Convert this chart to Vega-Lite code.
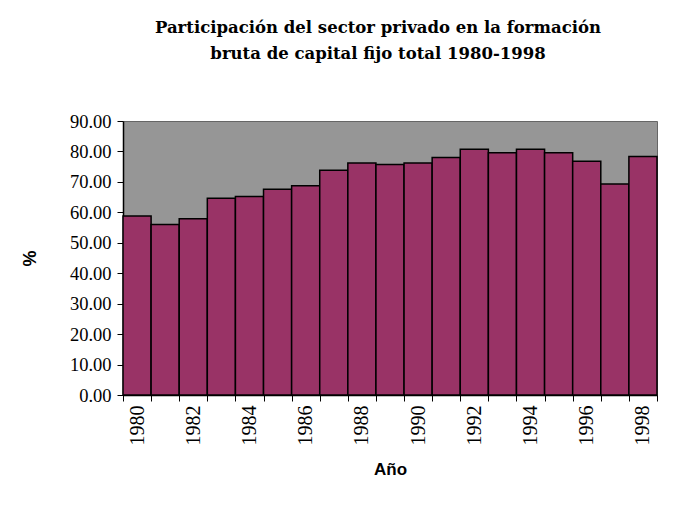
{
  "$schema": "https://vega.github.io/schema/vega-lite/v6.json",
  "width": 534,
  "height": 274,
  "autosize": "none",
  "padding": {"left": 123, "top": 121, "right": 42, "bottom": 118},
  "background": "white",
  "title": {
    "text": ["Participación del sector privado en la formación", "bruta de capital fijo total 1980-1998"],
    "font": "DejaVu Serif",
    "fontSize": 16.5,
    "fontWeight": "bold",
    "color": "black",
    "anchor": "middle",
    "dx": -12,
    "lineHeight": 26,
    "offset": 50
  },
  "data": {
    "values": [
      {"anio": 1980, "pct": 58.8},
      {"anio": 1981, "pct": 56.0},
      {"anio": 1982, "pct": 57.9},
      {"anio": 1983, "pct": 64.6},
      {"anio": 1984, "pct": 65.2},
      {"anio": 1985, "pct": 67.6},
      {"anio": 1986, "pct": 68.7},
      {"anio": 1987, "pct": 73.8},
      {"anio": 1988, "pct": 76.2},
      {"anio": 1989, "pct": 75.7},
      {"anio": 1990, "pct": 76.2},
      {"anio": 1991, "pct": 78.0},
      {"anio": 1992, "pct": 80.7},
      {"anio": 1993, "pct": 79.6},
      {"anio": 1994, "pct": 80.7},
      {"anio": 1995, "pct": 79.6},
      {"anio": 1996, "pct": 76.8},
      {"anio": 1997, "pct": 69.3},
      {"anio": 1998, "pct": 78.3}
    ]
  },
  "mark": {"type": "bar", "color": "#993366", "stroke": "black", "strokeWidth": 1.5},
  "encoding": {
    "x": {
      "field": "anio",
      "type": "ordinal",
      "scale": {"paddingInner": 0, "paddingOuter": 0},
      "axis": {
        "title": "Año",
        "titleFont": "Liberation Sans",
        "titleFontSize": 17,
        "titleFontWeight": "bold",
        "titleColor": "black",
        "titlePadding": 16,
        "labelFont": "Liberation Serif",
        "labelFontSize": 20,
        "labelColor": "black",
        "labelAngle": -90,
        "labelPadding": 4,
        "labelExpr": "datum.value % 2 === 0 ? datum.label : ''",
        "tickBand": "extent",
        "tickColor": "black",
        "tickSize": 6,
        "domainColor": "black",
        "domainWidth": 1.5
      }
    },
    "y": {
      "field": "pct",
      "type": "quantitative",
      "scale": {"domain": [0, 90]},
      "axis": {
        "title": "%",
        "titleFont": "Liberation Sans",
        "titleFontSize": 18,
        "titleFontWeight": "bold",
        "titleColor": "black",
        "titlePadding": 30,
        "values": [0, 10, 20, 30, 40, 50, 60, 70, 80, 90],
        "format": ".2f",
        "grid": false,
        "labelFont": "Liberation Serif",
        "labelFontSize": 18.5,
        "labelColor": "black",
        "labelPadding": 6,
        "tickColor": "black",
        "tickSize": 6,
        "domainColor": "black",
        "domainWidth": 1.5
      }
    }
  },
  "config": {
    "view": {"fill": "#969696", "stroke": "#666666", "strokeWidth": 1}
  }
}
